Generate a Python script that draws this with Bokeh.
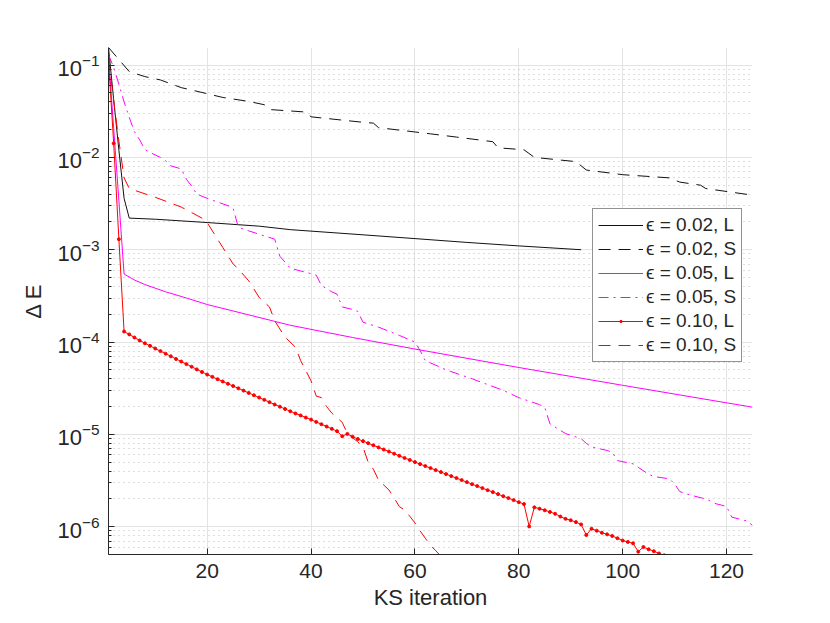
from bokeh.plotting import figure
from bokeh.models import Range1d, FixedTicker, Legend, LegendItem
from bokeh.embed import file_html
from bokeh.resources import INLINE

FONT = "Liberation Sans"
TXT = "#262626"

# ---- data ----
labels = ["ϵ = 0.02, L", "ϵ = 0.02, S", "ϵ = 0.05, L", "ϵ = 0.05, S", "ϵ = 0.10, L", "ϵ = 0.10, S"]

bl_x = [1, 2, 3, 4, 5, 10, 20, 30, 36, 50, 60, 70, 80, 92]
bl_y = [0.155, 0.042, 0.012, 0.0036, 0.0022, 0.00214, 0.00197, 0.0018, 0.00165,
        0.00145, 0.00132, 0.0012, 0.0011, 0.0010]

bs_x = [1, 5, 8, 11, 15, 19, 23, 28, 31, 32, 39, 40, 47, 50, 52, 53, 63, 68, 75, 76,
        81, 83, 91, 93, 100, 109, 111, 115, 116, 125]
bs_y = [0.155, 0.085, 0.075, 0.069, 0.057, 0.0505, 0.0446, 0.0404, 0.0372, 0.033,
        0.031, 0.0275, 0.025, 0.024, 0.0235, 0.021, 0.018, 0.0166, 0.0148, 0.0127,
        0.0121, 0.0100, 0.0090, 0.0073, 0.0065, 0.0060, 0.0054, 0.0050, 0.0046, 0.0039]

ml_x = [1, 2, 3, 4, 6, 8, 12, 16, 20, 28, 36, 48, 60, 80, 100, 125]
ml_y = [0.126, 0.0206, 0.0034, 5.45e-4, 4.7e-4, 4.2e-4, 3.5e-4, 3.0e-4, 2.55e-4,
        1.97e-4, 1.52e-4, 1.12e-4, 8.4e-5, 5.3e-5, 3.4e-5, 1.97e-5]

ms_x = [1, 2, 3, 4, 5, 6, 7, 8, 9, 11, 12, 13, 15, 16, 17, 18, 20, 24, 25, 26, 28, 33,
        34, 36, 40, 41, 42, 44, 45, 46, 48, 49, 50, 53, 57, 60, 61, 62, 66, 71, 77, 80,
        84, 85, 86, 89, 92, 93, 94, 97, 98, 99, 102, 103, 105, 106, 109, 110, 111, 113,
        116, 118, 120, 121, 124, 125]
ms_y = [0.13, 0.094, 0.062, 0.04, 0.027, 0.019, 0.0155, 0.0122, 0.0113, 0.0100, 0.0092,
        0.0081, 0.0075, 0.0058, 0.0049, 0.0040, 0.0036, 0.0030, 0.0028, 0.00175, 0.0016,
        0.0013, 0.00085, 0.00063, 0.00055, 0.00053, 0.00041, 0.00035, 0.00033, 0.00024,
        0.000225, 0.000215, 0.000164, 0.000145, 0.000118, 0.000100, 8.1e-5, 6.3e-5,
        5.0e-5, 4.0e-5, 3.0e-5, 2.5e-5, 2.1e-5, 1.96e-5, 1.3e-5, 1.02e-5, 9.0e-6, 8.0e-6,
        7.3e-6, 6.7e-6, 6.4e-6, 5.2e-6, 4.8e-6, 4.4e-6, 3.7e-6, 3.5e-6, 3.3e-6, 2.9e-6,
        2.4e-6, 2.2e-6, 2.0e-6, 1.77e-6, 1.66e-6, 1.27e-6, 1.15e-6, 1.03e-6]

rl_x = list(range(1, 109))
rl_log10 = [-0.955, -1.848, -2.886, -3.886, -3.917, -3.951, -3.983, -4.013,
            -4.041, -4.070, -4.098, -4.126, -4.154, -4.183, -4.211, -4.239, -4.267, -4.296, -4.324, -4.352,
            -4.377, -4.402, -4.427, -4.452, -4.476, -4.501, -4.526, -4.551, -4.576, -4.601, -4.626, -4.651,
            -4.676, -4.700, -4.725, -4.750,
            -4.773, -4.795, -4.818, -4.840, -4.865, -4.890, -4.915, -4.940, -4.965, -5.020, -4.995, -5.025, -5.050,
            -5.073, -5.095, -5.118, -5.141, -5.164, -5.186, -5.209, -5.232, -5.255, -5.277, -5.300,
            -5.322, -5.343, -5.365, -5.387, -5.408, -5.430, -5.452, -5.473, -5.495, -5.517, -5.539, -5.560,
            -5.582, -5.604, -5.625, -5.647, -5.669, -5.690, -5.712, -5.734, -5.755,
            -5.997, -5.790, -5.805, -5.822, -5.840, -5.860, -5.890, -5.915, -5.930, -5.950, -5.975,
            -6.090, -6.022, -6.043, -6.065, -6.083, -6.100, -6.125, -6.150, -6.165, -6.180, -6.270, -6.220,
            -6.245, -6.265, -6.290, -6.310]
rl_y = [10 ** v for v in rl_log10]

rs_x = [1, 2, 3, 4, 5, 10, 15, 19, 20, 23, 25, 26, 28, 30, 32, 33, 35, 37, 38, 40, 41, 42,
        43, 44, 46, 47, 49, 50, 51, 52, 53, 55, 56, 57, 58, 59, 60, 61, 62, 63, 64, 65]
rs_y = [0.12, 0.041, 0.015, 0.006, 0.0046, 0.0037, 0.0029, 0.0022, 0.00197, 0.00106, 0.0007,
        0.00062, 0.00046, 0.000305, 0.00024, 0.00017, 0.000113, 8.8e-5, 6.3e-5, 3.8e-5, 2.6e-5,
        2.5e-5, 2.0e-5, 1.7e-5, 1.35e-5, 1.02e-5, 8.3e-6, 7.3e-6, 5.0e-6, 4.2e-6, 3.2e-6, 2.5e-6,
        2.05e-6, 1.65e-6, 1.52e-6, 1.3e-6, 1.1e-6, 9.0e-7, 7.5e-7, 6.3e-7, 5.5e-7, 4.8e-7]

x_ticks = [20, 40, 60, 80, 100, 120]
y_ticks = [1e-6, 1e-5, 1e-4, 1e-3, 1e-2, 1e-1]

# ---- figure ----
p = figure(x_range=Range1d(1, 125), y_range=Range1d(5e-7, 0.155), y_axis_type="log",
           frame_width=644, frame_height=507,
           min_border_left=108, min_border_right=62, min_border_top=47, min_border_bottom=56,
           output_backend="svg", toolbar_location=None,
           background_fill_color="white", border_fill_color="white", outline_line_color=None)

minor = [m * 10.0 ** e for e in range(-7, 0) for m in range(2, 10)]
p.yaxis.ticker = FixedTicker(ticks=y_ticks, minor_ticks=minor)
p.xaxis.ticker = FixedTicker(ticks=x_ticks, minor_ticks=[])

for ax in (p.xaxis[0], p.yaxis[0]):
    ax.major_tick_in = 6
    ax.major_tick_out = 0
    ax.minor_tick_out = 0
    ax.axis_line_color = TXT
    ax.major_tick_line_color = TXT
    ax.minor_tick_line_color = TXT
    ax.major_label_text_font = FONT
    ax.major_label_text_color = TXT
    ax.axis_label_text_font = FONT
    ax.axis_label_text_font_size = "22px"
    ax.axis_label_text_font_style = "normal"
    ax.axis_label_text_color = TXT
p.xaxis.major_label_text_font_size = "21px"
p.yaxis.major_label_text_font_size = "22px"
p.yaxis.minor_tick_in = 3
p.xaxis.minor_tick_in = 0
p.xaxis.major_label_standoff = 9
p.yaxis.major_label_standoff = 9
p.xaxis.axis_label = "KS iteration"
p.yaxis.axis_label = "Δ E"
p.xaxis.axis_label_standoff = 4
p.yaxis.axis_label_standoff = 8

p.xgrid.grid_line_color = "#e3e3e3"
p.ygrid.grid_line_color = "#e3e3e3"
p.ygrid.minor_grid_line_color = "#bdbdbd"
p.ygrid.minor_grid_line_dash = "1 4"

r1 = p.line(bl_x, bl_y, line_color="#111111", line_width=1)
r2 = p.line(bs_x, bs_y, line_color="#111111", line_width=1, line_dash="12 8")
r3 = p.line(ml_x, ml_y, line_color="#ff00ff", line_width=1)
r4 = p.line(ms_x, ms_y, line_color="#ff00ff", line_width=1, line_dash="10 5 2 5")
r5 = p.line(rl_x, rl_y, line_color="#ff0000", line_width=1)
r5m = p.scatter(rl_x, rl_y, marker="circle", size=3, fill_color="#ff0000", line_color="#ff0000")
r6 = p.line(rs_x, rs_y, line_color="#ff0000", line_width=1, line_dash="12 8")

legend = Legend(items=[
    LegendItem(label=labels[0], renderers=[r1]),
    LegendItem(label=labels[1], renderers=[r2]),
    LegendItem(label=labels[2], renderers=[r3]),
    LegendItem(label=labels[3], renderers=[r4]),
    LegendItem(label=labels[4], renderers=[r5, r5m]),
    LegendItem(label=labels[5], renderers=[r6]),
], location=(484, 192))
legend.label_text_font = FONT
legend.label_text_font_size = "19px"
legend.label_text_color = TXT
legend.glyph_width = 45
legend.glyph_height = 6
legend.label_height = 20
legend.label_standoff = 3
legend.spacing = 2
legend.padding = 5
legend.margin = 0
legend.border_line_color = TXT
legend.border_line_width = 1
legend.background_fill_color = "white"
legend.background_fill_alpha = 1.0
p.add_layout(legend, "center")

open("out.html", "w").write(file_html(p, INLINE))
